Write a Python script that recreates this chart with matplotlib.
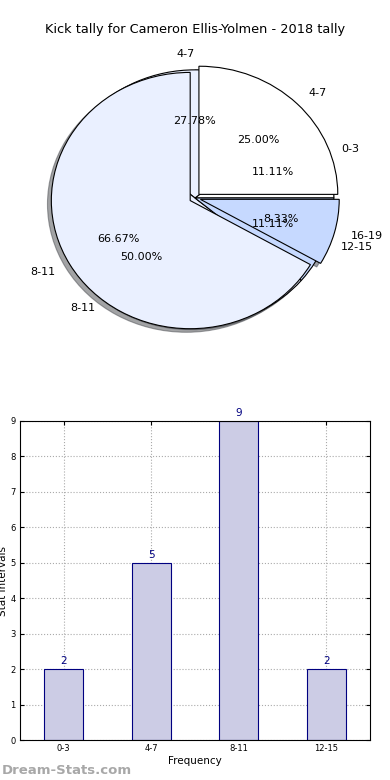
import matplotlib
matplotlib.use('Agg')
import matplotlib.pyplot as plt

# pie data: two tallies drawn over each other
labels_a = ['0-3', '4-7', '8-11', '12-15']
values_a = [2, 5, 9, 2]
labels_b = ['4-7', '16-19', '8-11']
values_b = [3, 1, 8]

# bar data
bar_labels = ['0-3', '4-7', '8-11', '12-15']
bar_values = [2, 5, 9, 2]

white = '#ffffff'
pale = '#eaf0ff'
lblue = '#c6d9ff'

fig = plt.figure(figsize=(3.9, 7.8), dpi=100)

fig.text(0.5, 1 - 30 / 780, 'Kick tally for Cameron Ellis-Yolmen - 2018 tally',
         ha='center', va='center', fontsize=9.3)

# pie axes, center approx (195,198) px
ax1 = fig.add_axes([(195 - 193) / 390, (582 - 173) / 780, 386 / 390, 346 / 780])
ax1.pie(values_a, labels=labels_a, autopct='%.2f%%', startangle=0,
        colors=[white, pale, pale, lblue], shadow=True,
        wedgeprops={'edgecolor': 'black', 'linewidth': 0.8},
        textprops={'fontsize': 8}, labeldistance=1.12, pctdistance=0.6)
ax1.pie(values_b, labels=labels_b, autopct='%.2f%%', startangle=90,
        counterclock=False, colors=[white, lblue, pale],
        explode=[0.04] * 3, shadow=True,
        wedgeprops={'edgecolor': 'black', 'linewidth': 0.8},
        textprops={'fontsize': 8}, labeldistance=1.12, pctdistance=0.6)
ax1.set_aspect('auto')
ax1.set_xlim(-1.39, 1.39)
ax1.set_ylim(-1.35, 1.35)
ax1.axis('off')

# bar axes
ax2 = fig.add_axes([20 / 390, 40 / 780, 350 / 390, 319 / 780])
x = range(len(bar_values))
ax2.bar(x, bar_values, width=0.45, color='#cccce5',
        edgecolor='#000080', linewidth=0.8, zorder=2)
for xi, v in zip(x, bar_values):
    ax2.text(xi, v + 0.08, str(v), ha='center', va='bottom', color='#000080',
             fontsize=7.5, clip_on=False)
ax2.set_xticks(list(x))
ax2.set_xticklabels(bar_labels)
ax2.set_xlim(-0.5, 3.5)
ax2.set_ylim(0, 9)
ax2.set_yticks(range(10))
ax2.tick_params(labelsize=6, direction='in', length=3, top=True, right=True, pad=3)
ax2.grid(True, linestyle=':', color='#aaaaaa', linewidth=0.8, zorder=0)
ax2.set_axisbelow(True)
ax2.set_xlabel('Frequency', fontsize=7.5, labelpad=2)
ax2.set_ylabel('Stat intervals', fontsize=7.5, labelpad=2)

fig.text(2 / 390, 1 - 771 / 780, 'Dream-Stats.com', fontsize=9.5,
         color='#a8a8a8', fontweight='bold', ha='left', va='center')

fig.savefig('out.png', dpi=100)
